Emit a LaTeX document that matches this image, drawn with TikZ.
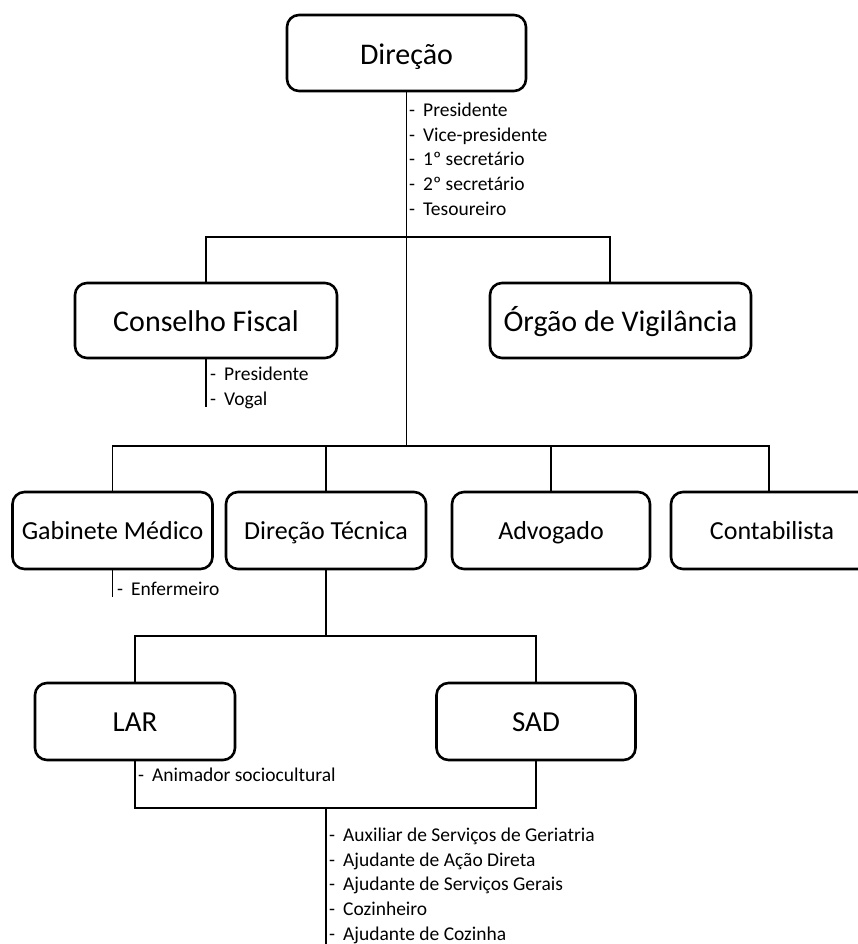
\documentclass[tikz,border=0pt]{standalone}
\usepackage{fontspec}
\setmainfont{Carlito}
\newcommand\dashitem[1]{\makebox[14pt][l]{-}#1}
\begin{document}
\begin{tikzpicture}[x=1pt,y=-1pt,
  orgbox/.style={draw=black, line width=2.6pt, rounded corners=12pt, inner sep=0pt,
    text=black},
  bigbox/.style={orgbox, font=\fontsize{30}{36}\selectfont, text height=23pt, text depth=0.6pt},
  midbox/.style={orgbox, font=\fontsize{26}{31}\selectfont, text height=19.2pt, text depth=0.4pt},
  unitbox/.style={orgbox, font=\fontsize{29}{35}\selectfont, text height=21pt, text depth=0.4pt},
  link/.style={draw=black, line width=1.3pt},
  rolelist/.style={anchor=north west, inner sep=0pt, align=left, text=black,
    font=\fontsize{19.5}{24.6}\selectfont}]
\useasboundingbox (0,0) rectangle (858,944);

% boxes
\node[bigbox, minimum width=239pt, minimum height=76pt] (dir) at (406.5,53) {Direção};
\node[bigbox, minimum width=262pt, minimum height=75pt] (cf) at (206,320.5) {Conselho Fiscal};
\node[bigbox, minimum width=261pt, minimum height=75pt] (ov) at (620.5,320.5) {Órgão de Vigilância};
\node[midbox, minimum width=200pt, minimum height=77pt] (gm) at (112.5,530.5) {Gabinete Médico};
\node[midbox, minimum width=200pt, minimum height=77pt] (dt) at (326,530.5) {Direção Técnica};
\node[midbox, minimum width=198pt, minimum height=77pt] (adv) at (551,530.5) {Advogado};
\node[midbox, minimum width=202pt, minimum height=77pt] (cont) at (772,530.5) {Contabilista};
\node[unitbox, minimum width=200pt, minimum height=77pt] (lar) at (135,721.5) {LAR};
\node[unitbox, minimum width=199pt, minimum height=77pt] (sad) at (536,721.5) {SAD};

% junction points
\coordinate (barA) at (406.5,237);
\coordinate (barB) at (406.5,446);
\coordinate (ovdrop) at (610,237);
\coordinate (contdrop) at (769,446);
\coordinate (barC) at (326,636);
\coordinate (barD) at (326,808);
\coordinate (cfend) at (206,407);
\coordinate (gmend) at (112.5,597);
\coordinate (bottom) at (326,944);

% connectors
\draw[link] (dir.south) -- (barB);
\draw[link] (cf.north) -- (cf.north |- barA) -- (ovdrop) -- (ovdrop |- ov.north);
\draw[link] (cf.south) -- (cfend);
\draw[link] (gm.north) -- (gm.north |- barB) -- (contdrop) -- (contdrop |- cont.north);
\draw[link] (dt.north) -- (dt.north |- barB);
\draw[link] (adv.north) -- (adv.north |- barB);
\draw[link] (gm.south) -- (gmend);
\draw[link] (dt.south) -- (barC);
\draw[link] (lar.north) -- (lar.north |- barC) -- (sad.north |- barC) -- (sad.north);
\draw[link] (lar.south) -- (lar.south |- barD) -- (sad.south |- barD) -- (sad.south);
\draw[link] (barD) -- (bottom);

% role lists
\node[rolelist] (dirroles) at (409,103) {\dashitem{Presidente}\\\dashitem{Vice-presidente}\\
  \dashitem{1º secretário}\\\dashitem{2º secretário}\\\dashitem{Tesoureiro}};
\node[rolelist] (cfroles) at (210,367) {\dashitem{Presidente}\\\dashitem{Vogal}};
\node[rolelist] (gmroles) at (117,582) {\dashitem{Enfermeiro}};
\node[rolelist] (larroles) at (138,768) {\dashitem{Animador sociocultural}};
\node[rolelist] (staff) at (329,828) {\dashitem{Auxiliar de Serviços de Geriatria}\\
  \dashitem{Ajudante de Ação Direta}\\\dashitem{Ajudante de Serviços Gerais}\\
  \dashitem{Cozinheiro}\\\dashitem{Ajudante de Cozinha}};
\end{tikzpicture}
\end{document}
